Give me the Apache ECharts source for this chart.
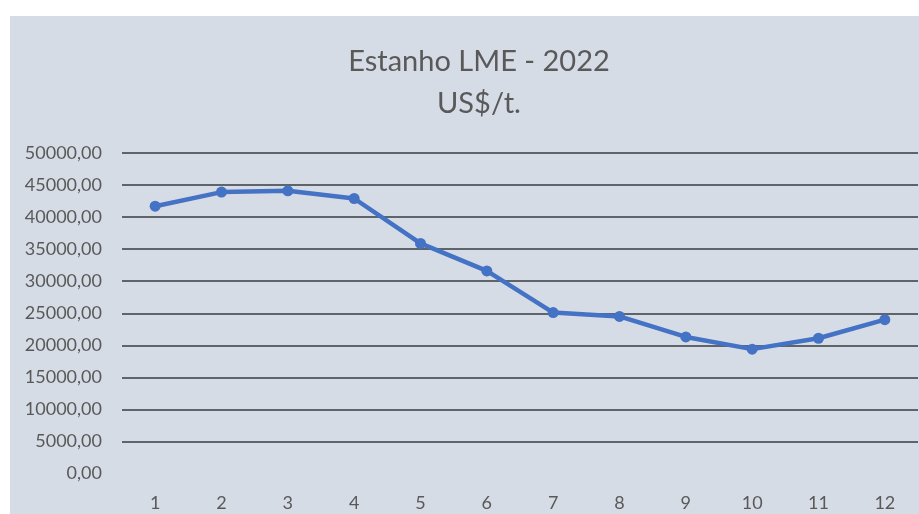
<!DOCTYPE html>
<html>
<head>
<meta charset="utf-8">
<script src="https://cdn.jsdelivr.net/npm/echarts@6/dist/echarts.min.js"></script>
<style>
html,body{margin:0;padding:0;background:#fff;}
#c{width:919px;height:514px;}
</style>
</head>
<body>
<div id="c"></div>
<script>
const months = ['1','2','3','4','5','6','7','8','9','10','11','12'];
const prices = [41700, 43900, 44100, 42900, 35900, 31600, 25100, 24500, 21300, 19400, 21100, 24000];
const titleLines = ['Estanho LME - 2022', 'US$/t.'];

const chart = echarts.init(document.getElementById('c'), null, {renderer: 'canvas'});
const gridColor = '#5f636a';
chart.setOption({
  backgroundColor: '#ffffff',
  animation: false,
  graphic: [{
    type: 'rect', z: -10, silent: true,
    shape: {x: 10, y: 16, width: 909, height: 498},
    style: {fill: '#d6dce5'}
  }],
  title: {
    text: titleLines.join('\n'),
    left: 474,
    textAlign: 'center',
    top: 36,
    textStyle: {fontFamily: 'Lato', fontSize: 29, fontWeight: 'normal', color: '#595959', lineHeight: 42}
  },
  grid: {left: 122, right: 1, top: 153, bottom: 40.5},
  xAxis: {
    type: 'category',
    data: months,
    boundaryGap: true,
    axisLine: {show: false},
    axisTick: {show: false},
    axisLabel: {fontFamily: 'Lato', fontSize: 18, color: '#595959', margin: 21}
  },
  yAxis: {
    type: 'value',
    min: 0, max: 50000, interval: 5000,
    axisLine: {show: false},
    axisTick: {show: false},
    axisLabel: {
      fontFamily: 'Lato', fontSize: 18, color: '#595959', margin: 20,
      formatter: v => v.toFixed(2).replace('.', ',')
    },
    splitLine: {
      show: true,
      lineStyle: {
        width: 2,
        color: ['rgba(0,0,0,0)', gridColor, gridColor, gridColor, gridColor, gridColor, gridColor, gridColor, gridColor, gridColor, gridColor]
      }
    }
  },
  series: [{
    type: 'line',
    data: prices,
    symbol: 'circle',
    symbolSize: 11,
    lineStyle: {color: '#4472c4', width: 4.5},
    itemStyle: {color: '#4472c4'}
  }]
});
</script>
</body>
</html>
